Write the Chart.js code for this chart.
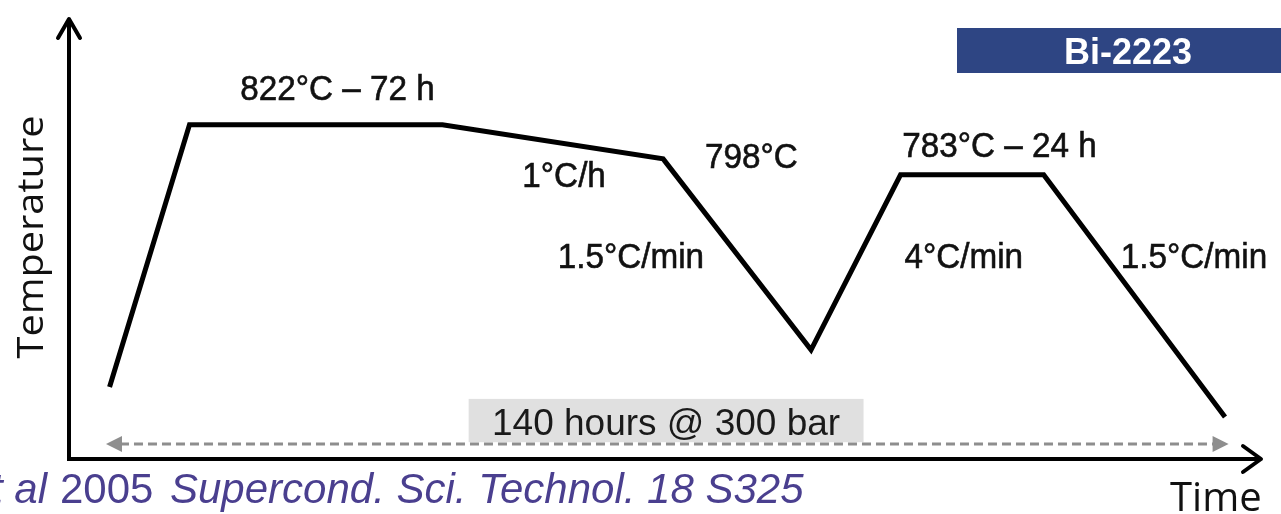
<!DOCTYPE html>
<html>
<head>
<meta charset="utf-8">
<title>Bi-2223 heat treatment</title>
<script src="https://cdn.jsdelivr.net/npm/chart.js@4"></script>
<style>
    html, body { margin: 0; padding: 0; background: #fff; }
    canvas { display: block; }
</style>
</head>
<body>
<canvas id="profileChart" width="1281" height="514"></canvas>
<script>
/* ============================================================
   Bi-2223 overpressure heat treatment profile
   ============================================================ */

// schedule corners (arbitrary time / temperature units, 0-100)
var stepTime = [3.4, 10.1, 31.3, 49.8, 62.2, 69.7, 81.7, 96.9];
var stepTemp = [16.3, 75.6, 75.6, 67.9, 24.7, 64.3, 64.3, 9.5];

// step annotations, placed in the same units
var noteText = ['822\u00B0C \u2013 72 h', '1\u00B0C/h', '798\u00B0C', '1.5\u00B0C/min', '783\u00B0C \u2013 24 h', '4\u00B0C/min', '1.5\u00B0C/min'];
var noteTime = [22.5, 41.5, 57.2, 47.1, 78.0, 75.0, 94.3];
var noteTemp = [81.2, 61.5, 65.8, 43.2, 68.3, 43.2, 43.2];

// total duration bar
var spanStart = 3.1, spanEnd = 97.2, spanLevel = 3.4;
var spanLabel = '140 hours @ 300 bar';

(function () {
    var points = stepTime.map(function (t, i) { return { x: t, y: stepTemp[i] }; });

    /* ── Decorations: axes, arrows, labels ───────────────── */
    var decor = {
        id: 'decor',
        beforeDatasetsDraw: function (chart) {
            var ctx = chart.ctx, xs = chart.scales.x, ys = chart.scales.y;
            var x0 = xs.getPixelForValue(0), x1 = xs.getPixelForValue(100);
            var y0 = ys.getPixelForValue(0), y1 = ys.getPixelForValue(100);
            ctx.save();

            // grey label box behind the duration arrow
            var bx0 = xs.getPixelForValue(33.5), bx1 = xs.getPixelForValue(66.6);
            var by0 = ys.getPixelForValue(13.6), by1 = ys.getPixelForValue(3.8);
            ctx.fillStyle = '#e0e0e0';
            ctx.fillRect(bx0, by0, bx1 - bx0, by1 - by0);
            ctx.fillStyle = '#1a1a1a';
            ctx.font = '37px "Liberation Sans", Arial, sans-serif';
            ctx.textAlign = 'center';
            ctx.textBaseline = 'alphabetic';
            ctx.fillText(spanLabel, (bx0 + bx1) / 2, by1 - 7);

            // dashed double arrow
            var sy = ys.getPixelForValue(spanLevel);
            var sa = xs.getPixelForValue(spanStart), sb = xs.getPixelForValue(spanEnd);
            ctx.strokeStyle = '#8e8e8e';
            ctx.fillStyle = '#8e8e8e';
            ctx.lineWidth = 3;
            ctx.setLineDash([9, 5]);
            ctx.beginPath();
            ctx.moveTo(sa + 14, sy);
            ctx.lineTo(sb - 14, sy);
            ctx.stroke();
            ctx.setLineDash([]);
            ctx.beginPath();
            ctx.moveTo(sa, sy); ctx.lineTo(sa + 16, sy - 8); ctx.lineTo(sa + 16, sy + 8); ctx.closePath();
            ctx.moveTo(sb, sy); ctx.lineTo(sb - 16, sy - 8); ctx.lineTo(sb - 16, sy + 8); ctx.closePath();
            ctx.fill();

            // axes with open arrow heads
            ctx.strokeStyle = '#000';
            ctx.lineWidth = 4;
            ctx.lineJoin = 'round';
            ctx.lineCap = 'butt';
            ctx.beginPath();
            ctx.moveTo(x0, y0 + 2);
            ctx.lineTo(x0, y1 + 2);
            ctx.moveTo(x0 - 2, y0);
            ctx.lineTo(x1 - 2, y0);
            ctx.stroke();
            ctx.lineCap = 'round';
            ctx.beginPath();
            ctx.moveTo(x0 - 11, y1 + 21); ctx.lineTo(x0, y1 + 2); ctx.lineTo(x0 + 11, y1 + 21);
            ctx.moveTo(x1 - 19, y0 - 13); ctx.lineTo(x1 - 1, y0); ctx.lineTo(x1 - 19, y0 + 13);
            ctx.stroke();

            ctx.restore();
        },
        afterDatasetsDraw: function (chart) {
            var ctx = chart.ctx, xs = chart.scales.x, ys = chart.scales.y;
            ctx.save();
            ctx.fillStyle = '#111';
            ctx.strokeStyle = '#111';
            ctx.lineWidth = 0.6;
            ctx.font = '35px "Liberation Sans", Arial, sans-serif';
            ctx.textAlign = 'center';
            ctx.textBaseline = 'alphabetic';
            noteText.forEach(function (t, i) {
                ctx.save();
                ctx.translate(xs.getPixelForValue(noteTime[i]), ys.getPixelForValue(noteTemp[i]));
                ctx.scale(0.95, 1);
                ctx.fillText(t, 0, 0);
                ctx.strokeText(t, 0, 0);
                ctx.restore();
            });

            // material badge
            ctx.fillStyle = '#2e4583';
            ctx.fillRect(957, 28, 324, 45);
            ctx.fillStyle = '#fff';
            ctx.font = 'bold 36px "Liberation Sans", Arial, sans-serif';
            ctx.fillText('Bi-2223', 1128, 64);

            // axis titles
            ctx.fillStyle = '#111';
            ctx.font = '40px "Open Sans", sans-serif';
            ctx.textAlign = 'left';
            ctx.fillText('Time', 1170, 511);

            ctx.save();
            ctx.translate(43, 237);
            ctx.rotate(-Math.PI / 2);
            ctx.font = '36px "Open Sans", sans-serif';
            var w = ctx.measureText('Temperature').width;
            ctx.scale(243 / w, 1);
            ctx.textAlign = 'center';
            ctx.fillText('Temperature', 0, 0);
            ctx.restore();

            // reference line
            ctx.fillStyle = '#4a3f8f';
            ctx.font = 'italic 42px "Liberation Sans", Arial, sans-serif';
            ctx.textAlign = 'right';
            ctx.fillText('et al', 47, 503);
            ctx.textAlign = 'left';
            ctx.font = '42px "Liberation Sans", Arial, sans-serif';
            ctx.fillText('2005', 60, 503);
            ctx.font = 'italic 42px "Liberation Sans", Arial, sans-serif';
            ctx.fillText('Supercond. Sci. Technol. 18 S325', 170, 503);
            ctx.restore();
        }
    };

    /* ── Chart ───────────────────────────────────────────── */
    new Chart(document.getElementById('profileChart'), {
        type: 'line',
        data: {
            datasets: [{
                data: points,
                borderColor: '#000',
                borderWidth: 5,
                borderJoinStyle: 'miter',
                pointRadius: 0,
                tension: 0,
                fill: false
            }]
        },
        options: {
            responsive: false,
            animation: false,
            events: [],
            layout: { padding: { left: 69, right: 19, top: 17, bottom: 55 } },
            plugins: { legend: { display: false }, tooltip: { enabled: false } },
            scales: {
                x: { type: 'linear', min: 0, max: 100, display: false },
                y: { type: 'linear', min: 0, max: 100, display: false }
            }
        },
        plugins: [decor]
    });
})();
</script>
</body>
</html>
